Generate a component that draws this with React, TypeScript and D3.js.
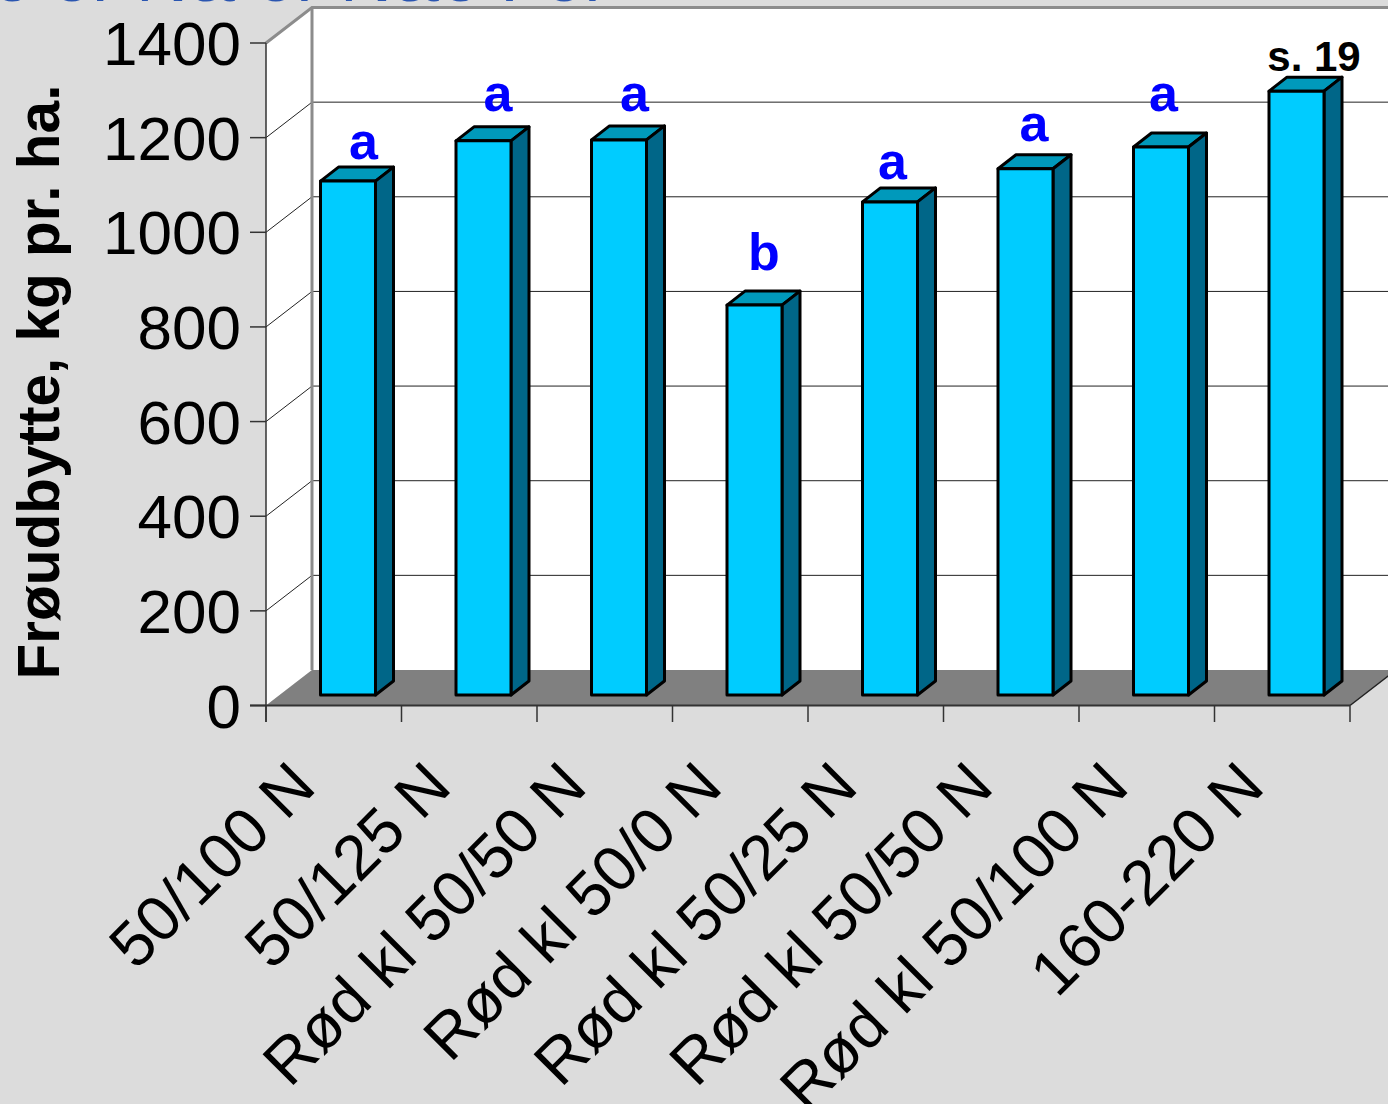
import React from 'react';
import * as d3 from 'd3';

const categories = [
    '50/100 N',
    '50/125 N',
    'Rød kl 50/50 N',
    'Rød kl 50/0 N',
    'Rød kl 50/25 N',
    'Rød kl 50/50 N ',
    'Rød kl 50/100 N',
    '160-220 N',
];
const yields = [1086, 1171, 1173, 824, 1042, 1112, 1158, 1276];
const letters = ['a', 'a', 'a', 'b', 'a', 'a', 'a', 's. 19'];
// label placement relative to the bar top, the original was hand placed
const labelDx = [16, 15, 16, 10, 3, 9, 3, 18];
const labelLift = [8, 16, 15, 21, 9, 14, 22, 6];
const yTicks = [0, 200, 400, 600, 800, 1000, 1200, 1400];
const titleFragment = 'e or N& or N&e For';

const WIDTH = 1388;
const HEIGHT = 1104;
const FONT = '"Liberation Sans", Arial, sans-serif';

const depth = { x: 46, y: 35.5 };
const barDepth = { x: 18, y: 14 };

const x = d3.scaleBand<string>().domain(categories).range([266, 1350]);
const y = d3.scaleLinear().domain([0, 1400]).range([705.5, 43]);

const App: React.FC = () => {
    const y0 = y(0);
    const floor = d3.path();
    floor.moveTo(266, y0);
    floor.lineTo(266 + depth.x, y0 - depth.y);
    floor.lineTo(1350 + depth.x, y0 - depth.y);
    floor.lineTo(1350, y0);
    floor.closePath();

    const tickEdges = [...x.domain().map(c => x(c) as number), 1350];

    return (
        <div style={{ position: 'absolute', left: 0, top: 0, width: WIDTH, height: HEIGHT, overflow: 'hidden' }}>
            <svg width={WIDTH} height={HEIGHT} style={{ display: 'block' }} fontFamily={FONT}>
                <rect width={WIDTH} height={HEIGHT} fill="#dcdcdc" />
                <text x={-8} y={0.5} fontSize={72} fill="#2a55b0">{titleFragment}</text>

                {/* walls */}
                <path
                    d={`M266,${y(1400)}L312,${y(1400) - depth.y}H${WIDTH}V${y0 - depth.y}H312L266,${y0}Z`}
                    fill="#fff"
                />
                <path d={floor.toString()} fill="#808080" />

                {/* gridlines */}
                {yTicks.slice(1, -1).map(t => (
                    <g key={t} stroke="#222" strokeWidth={1} fill="none">
                        <line x1={266} y1={y(t)} x2={266 + depth.x} y2={y(t) - depth.y} />
                        <line x1={266 + depth.x} y1={y(t) - depth.y} x2={WIDTH} y2={y(t) - depth.y} />
                    </g>
                ))}
                <g stroke="#8c8c8c" strokeWidth={3} fill="none">
                    <path d={`M266,${y(1400)}L312,${y(1400) - depth.y}H${WIDTH}`} />
                    <line x1={312} y1={y(1400) - depth.y} x2={312} y2={y0 - depth.y} />
                </g>
                <line x1={1350} y1={y0} x2={1350 + depth.x} y2={y0 - depth.y} stroke="#222" strokeWidth={1.5} />

                {/* axes */}
                <g stroke="#333" strokeWidth={1.5} fill="none">
                    <line x1={266} y1={y(1400)} x2={266} y2={722} />
                    <line x1={250} y1={y0} x2={1350} y2={y0} strokeWidth={2} />
                    {yTicks.map(t => (
                        <line key={t} x1={250} y1={y(t)} x2={266} y2={y(t)} />
                    ))}
                    {tickEdges.map(e => (
                        <line key={e} x1={e} y1={y0} x2={e} y2={722} />
                    ))}
                </g>
                {yTicks.map(t => (
                    <text key={t} x={241} y={y(t) + 22} fontSize={62} textAnchor="end" fill="#000">{t}</text>
                ))}
                <text
                    transform="translate(59,382) rotate(-90)"
                    fontSize={58.5}
                    fontWeight="bold"
                    textAnchor="middle"
                    fill="#000"
                >
                    Frøudbytte, kg pr. ha.
                </text>

                {/* bars */}
                {categories.map((c, i) => {
                    const left = (x(c) as number) + 54.5;
                    const w = 55;
                    const bottom = y0 - 10.5;
                    const top = y(yields[i]) - 10.5;
                    return (
                        <g key={c} stroke="#000" strokeWidth={3} strokeLinejoin="round">
                            <path
                                d={`M${left},${top}l${barDepth.x},${-barDepth.y}h${w}l${-barDepth.x},${barDepth.y}Z`}
                                fill="#0099bb"
                            />
                            <path
                                d={`M${left + w},${top}l${barDepth.x},${-barDepth.y}V${bottom - barDepth.y}l${-barDepth.x},${barDepth.y}Z`}
                                fill="#006688"
                            />
                            <rect x={left} y={top} width={w} height={bottom - top} fill="#00ccff" />
                        </g>
                    );
                })}

                {/* significance letters */}
                {categories.map((c, i) => {
                    const isNote = letters[i].length > 1;
                    return (
                        <text
                            key={c}
                            x={(x(c) as number) + 54 + 27.5 + labelDx[i]}
                            y={y(yields[i]) - 10.5 - barDepth.y - labelLift[i]}
                            fontSize={isNote ? 42 : 52}
                            fontWeight="bold"
                            textAnchor="middle"
                            fill={isNote ? '#000' : '#0000ff'}
                        >
                            {letters[i]}
                        </text>
                    );
                })}

                {/* category labels */}
                {categories.map(c => (
                    <text
                        key={c}
                        transform={`translate(${(x(c) as number) + 20},757) rotate(-45)`}
                        fontSize={63.5}
                        textAnchor="end"
                        dominantBaseline="hanging"
                        fill="#000"
                    >
                        {c.trim()}
                    </text>
                ))}
            </svg>
        </div>
    );
};

export default App;
